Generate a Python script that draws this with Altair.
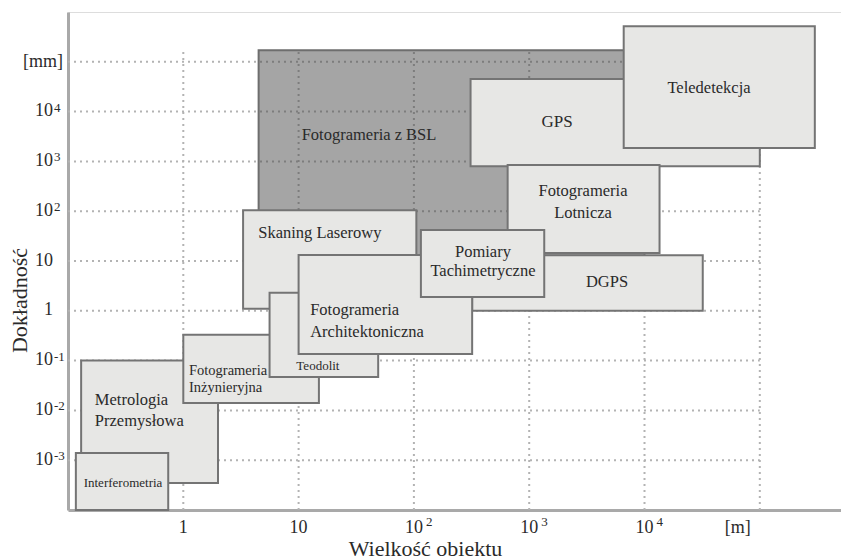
import altair as alt
import pandas as pd

# ---------------- data ----------------
box_names = ["Fotogrameria z BSL", "GPS", "Teledetekcja", "Fotogrameria Lotnicza", "DGPS",
             "Skaning Laserowy", "Metrologia Przemysłowa", "Fotogrameria Inżynieryjna", "Teodolit",
             "Fotogrameria Architektoniczna", "Pomiary Tachimetryczne", "Interferometria"]
box_x0 = [4.5, 310, 6600, 650, 320, 3.3, 0.13, 1.0, 5.6, 10, 115, 0.117]
box_x1 = [1.0e4, 1.0e5, 3.0e5, 1.35e4, 3.2e4, 105, 2.0, 15, 49, 320, 1350, 0.74]
box_y0 = [10, 800, 1850, 14.5, 1.0, 1.1, 3.5e-4, 0.014, 0.047, 0.135, 1.9, 1.0e-4]
box_y1 = [1.7e5, 4.5e4, 5.2e5, 850, 13, 105, 0.1, 0.33, 2.3, 13.2, 42, 1.4e-3]

label_text = ["Interferometria", "Metrologia", "Przemysłowa", "Fotogrameria", "Inżynieryjna",
              "Teodolit", "Fotogrameria", "Architektoniczna", "Skaning Laserowy", "Pomiary",
              "Tachimetryczne", "DGPS", "Fotogrameria", "Lotnicza", "GPS", "Teledetekcja",
              "Fotogrameria z BSL"]
label_x = [0.30, 0.171, 0.171, 1.12, 1.12, 14.7, 12.6, 12.6, 15.3, 397, 397, 4730, 2930, 2930,
           1742, 36250, 40.8]
label_y = [3.48e-4, 0.0162, 0.00612, 0.0618, 0.0282, 0.078, 1.04, 0.375, 36.5, 15.2, 6.3, 3.79,
           255, 92, 6180, 29800, 3390]

x_tick_vals = [1, 10, 1e2, 1e3, 1e4]
x_tick_base = ["1", "10", "10", "10", "10"]
x_tick_exp = ["", "", "2", "3", "4"]
x_unit_val = [1e5]
x_unit_text = ["[m]"]

y_tick_vals = [1e-3, 1e-2, 1e-1, 1, 10, 1e2, 1e3, 1e4]
y_tick_base = ["10", "10", "10", "1", "10", "10", "10", "10"]
y_tick_exp = ["-3", "-2", "-1", "", "", "2", "3", "4"]
y_unit_val = [1e5]
y_unit_text = ["[mm]"]

grid_x = [1, 10, 1e2, 1e3, 1e4, 1e5]
grid_y = [1e-3, 1e-2, 1e-1, 1, 10, 1e2, 1e3, 1e4, 1e5]
grid_x_end = 1e5
grid_y_end = 1.6e5

x_domain = [0.1, 506000]
y_domain = [1e-4, 1e6]

# ---------------- styling ----------------
FONT = "Liberation Serif"
TXT = "#2a2a2a"
DARK_BOX = "Fotogrameria z BSL"
LEFT_ALIGNED = {1, 2, 3, 4, 6, 7}
SIZE_BY_INDEX = {0: 13, 3: 14.5, 4: 14.5, 5: 13, 14: 17}
DEFAULT_SIZE = 16.5

xs = alt.Scale(type="log", domain=x_domain, nice=False)
ys = alt.Scale(type="log", domain=y_domain, nice=False)

x_axis = alt.Axis(title="Wielkość obiektu", labels=False, ticks=False, grid=False,
                  domainColor="#a9a9a9", domainWidth=3, titleFont=FONT, titleFontSize=22,
                  titleFontWeight="normal", titleColor=TXT, titleX=357, titleY=45,
                  titleAlign="center", titleBaseline="alphabetic")
y_axis = alt.Axis(title="Dokładność", labels=False, ticks=False, grid=False,
                  domainColor="#a9a9a9", domainWidth=3, titleFont=FONT, titleFontSize=22,
                  titleFontWeight="normal", titleColor=TXT, titleX=-49, titleY=288,
                  titleAngle=-90, titleAlign="center", titleBaseline="middle")


def X(f, **kw):
    return alt.X(f, type="quantitative", scale=xs, axis=x_axis, **kw)


def Y(f, **kw):
    return alt.Y(f, type="quantitative", scale=ys, axis=y_axis, **kw)


boxes = pd.DataFrame({"name": box_names, "x0": box_x0, "x1": box_x1, "y0": box_y0, "y1": box_y1})
dark = boxes[boxes["name"] == DARK_BOX]
light = boxes[boxes["name"] != DARK_BOX]

vgrid = pd.DataFrame({"x": grid_x, "ya": y_domain[0], "yb": grid_y_end})
hgrid = pd.DataFrame({"y": grid_y, "xa": x_domain[0], "xb": grid_x_end})

grid_style = dict(strokeDash=[2, 4], strokeWidth=2, color="#b3b3b3")
vg = alt.Chart(vgrid).mark_rule(**grid_style).encode(x=X("x"), y=Y("ya"), y2="yb")
hg = alt.Chart(hgrid).mark_rule(**grid_style).encode(y=Y("y"), x=X("xa"), x2="xb")

dark_rect = alt.Chart(dark).mark_rect(fill="#404040", fillOpacity=0.47, stroke="#6e6e6e",
                                      strokeWidth=2).encode(x=X("x0"), x2="x1", y=Y("y0"), y2="y1")
light_rect = alt.Chart(light).mark_rect(fill="#e7e7e5", stroke="#747474",
                                        strokeWidth=2).encode(x=X("x0"), x2="x1", y=Y("y0"), y2="y1")

labels = pd.DataFrame({"t": label_text, "x": label_x, "y": label_y})
labels["left"] = [i in LEFT_ALIGNED for i in range(len(labels))]
labels["size"] = [SIZE_BY_INDEX.get(i, DEFAULT_SIZE) for i in range(len(labels))]

label_layers = []
for left in (False, True):
    for size in sorted(set(labels["size"])):
        sub = labels[(labels["left"] == left) & (labels["size"] == size)]
        if len(sub) == 0:
            continue
        label_layers.append(
            alt.Chart(sub).mark_text(align="left" if left else "center", baseline="middle",
                                     font=FONT, fontSize=float(size), color=TXT)
            .encode(x=X("x"), y=Y("y"), text="t:N"))

xt = pd.DataFrame({"v": x_tick_vals, "b": x_tick_base, "e": x_tick_exp, "ymin": y_domain[0]})
xte = xt[xt["e"] != ""]
yt = pd.DataFrame({"v": y_tick_vals, "b": y_tick_base, "e": y_tick_exp, "xmin": x_domain[0]})
yte = yt[yt["e"] != ""]
xu = pd.DataFrame({"v": x_unit_val, "t": x_unit_text, "ymin": y_domain[0]})
yu = pd.DataFrame({"v": y_unit_val, "t": y_unit_text, "xmin": x_domain[0]})

tick_txt = dict(font=FONT, color=TXT)
xb = alt.Chart(xt).mark_text(align="center", baseline="alphabetic", dy=23, fontSize=18,
                             **tick_txt).encode(x=X("v"), y=Y("ymin"), text="b:N")
xe = alt.Chart(xte).mark_text(align="left", baseline="alphabetic", dx=12, dy=16, fontSize=13,
                              **tick_txt).encode(x=X("v"), y=Y("ymin"), text="e:N")
xun = alt.Chart(xu).mark_text(align="center", baseline="alphabetic", dx=-22, dy=23, fontSize=18,
                              **tick_txt).encode(x=X("v"), y=Y("ymin"), text="t:N")
yb = alt.Chart(yt).mark_text(align="right", baseline="alphabetic", dx=-15, dy=4.5, fontSize=18,
                             **tick_txt).encode(x=X("xmin"), y=Y("v"), text="b:N")
ye = alt.Chart(yte).mark_text(align="left", baseline="alphabetic", dx=-14, dy=0, fontSize=13,
                              **tick_txt).encode(x=X("xmin"), y=Y("v"), text="e:N")
yun = alt.Chart(yu).mark_text(align="right", baseline="alphabetic", dx=-5, dy=5, fontSize=18,
                              **tick_txt).encode(x=X("xmin"), y=Y("v"), text="t:N")

chart = alt.layer(vg, hg, dark_rect, light_rect, *label_layers, xb, xe, xun, yb, ye, yun).properties(
    width=773, height=498,
    autosize=alt.AutoSizeParams(type="none"),
    padding={"left": 60, "top": 4, "right": 0, "bottom": 49},
).configure_view(stroke=None).configure(background="white")

chart.save("out.html", embed_options={"renderer": "svg", "actions": False})
